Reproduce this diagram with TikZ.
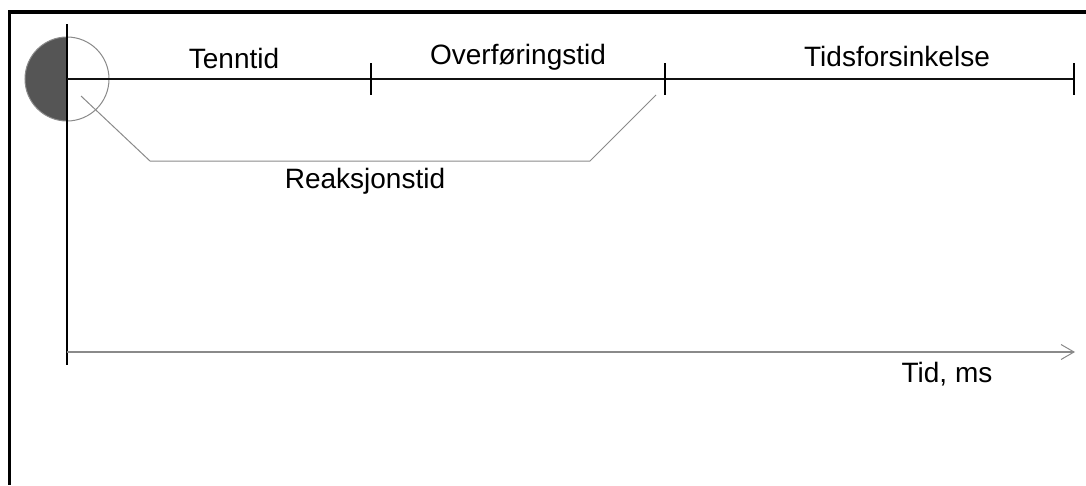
\documentclass[tikz,border=0pt]{standalone}
\usepackage{fontspec}
\setmainfont{Liberation Sans}
\usetikzlibrary{arrows.meta,positioning}
\definecolor{ink}{HTML}{111111}
\definecolor{darkfill}{HTML}{555555}
\definecolor{faint}{HTML}{8A8A8A}
\tikzset{
  frameline/.style={line width=3.5pt, draw=black},
  timeline/.style={line width=2pt, draw=ink},
  tickmark/.style={line width=2pt, draw=black},
  phase/.style={font=\fontsize{28}{32}\selectfont, inner sep=0pt, anchor=base},
  bracket/.style={line width=1pt, draw=faint},
  timeaxis/.style={line width=2pt, draw=faint,
    -{Straight Barb[length=13pt, width=15pt, line width=1pt]}}
}

\begin{document}
\begin{tikzpicture}[x=1pt, y=-1pt]
  \useasboundingbox (0,0) rectangle (1086,485);
  % outer frame (only top and left edge are visible)
  \draw[frameline] (1086,12) -- (9.5,12) -- (9.5,485);

  % start marker: left half filled
  \coordinate (origin) at (67,79);
  \begin{scope}
    \clip (origin) ++(-50,-50) rectangle ++(50,100);
    \fill[darkfill] (origin) circle[radius=42];
  \end{scope}
  \draw[faint, line width=1pt] (origin) circle[radius=42];
  \draw[line width=1.5pt, draw=black] (67,24) -- (67,365);

  % phases along the top line
  \coordinate (t1) at (371,79);
  \coordinate (t2) at (665,79);
  \coordinate (t3) at (1074,79);
  \draw[timeline] (origin) -- (t3);
  \foreach \t in {t1,t2,t3}
    \draw[tickmark] (\t) ++(0,-16) -- ++(0,32);
  \node[phase] (tenn) at (234,68) {Tenntid};
  \node[phase] (over) at (518,64) {Overføringstid};
  \node[phase] (forsink) at (897,66) {Tidsforsinkelse};

  % reaction time bracket
  \coordinate (ra) at (81,96);
  \coordinate (rb) at (150,161);
  \coordinate (rc) at (590,161);
  \coordinate (rd) at (656,95);
  \draw[bracket] (ra) -- (rb) -- (rc) -- (rd);
  \node[phase] (reak) at (365,188) {Reaksjonstid};

  % time axis
  \coordinate (axstart) at (67,352);
  \coordinate (axend) at (1075,352);
  \draw[timeaxis] (axstart) -- (axend);
  \node[phase] (tid) at (947,382) {Tid, ms};
\end{tikzpicture}
\end{document}
